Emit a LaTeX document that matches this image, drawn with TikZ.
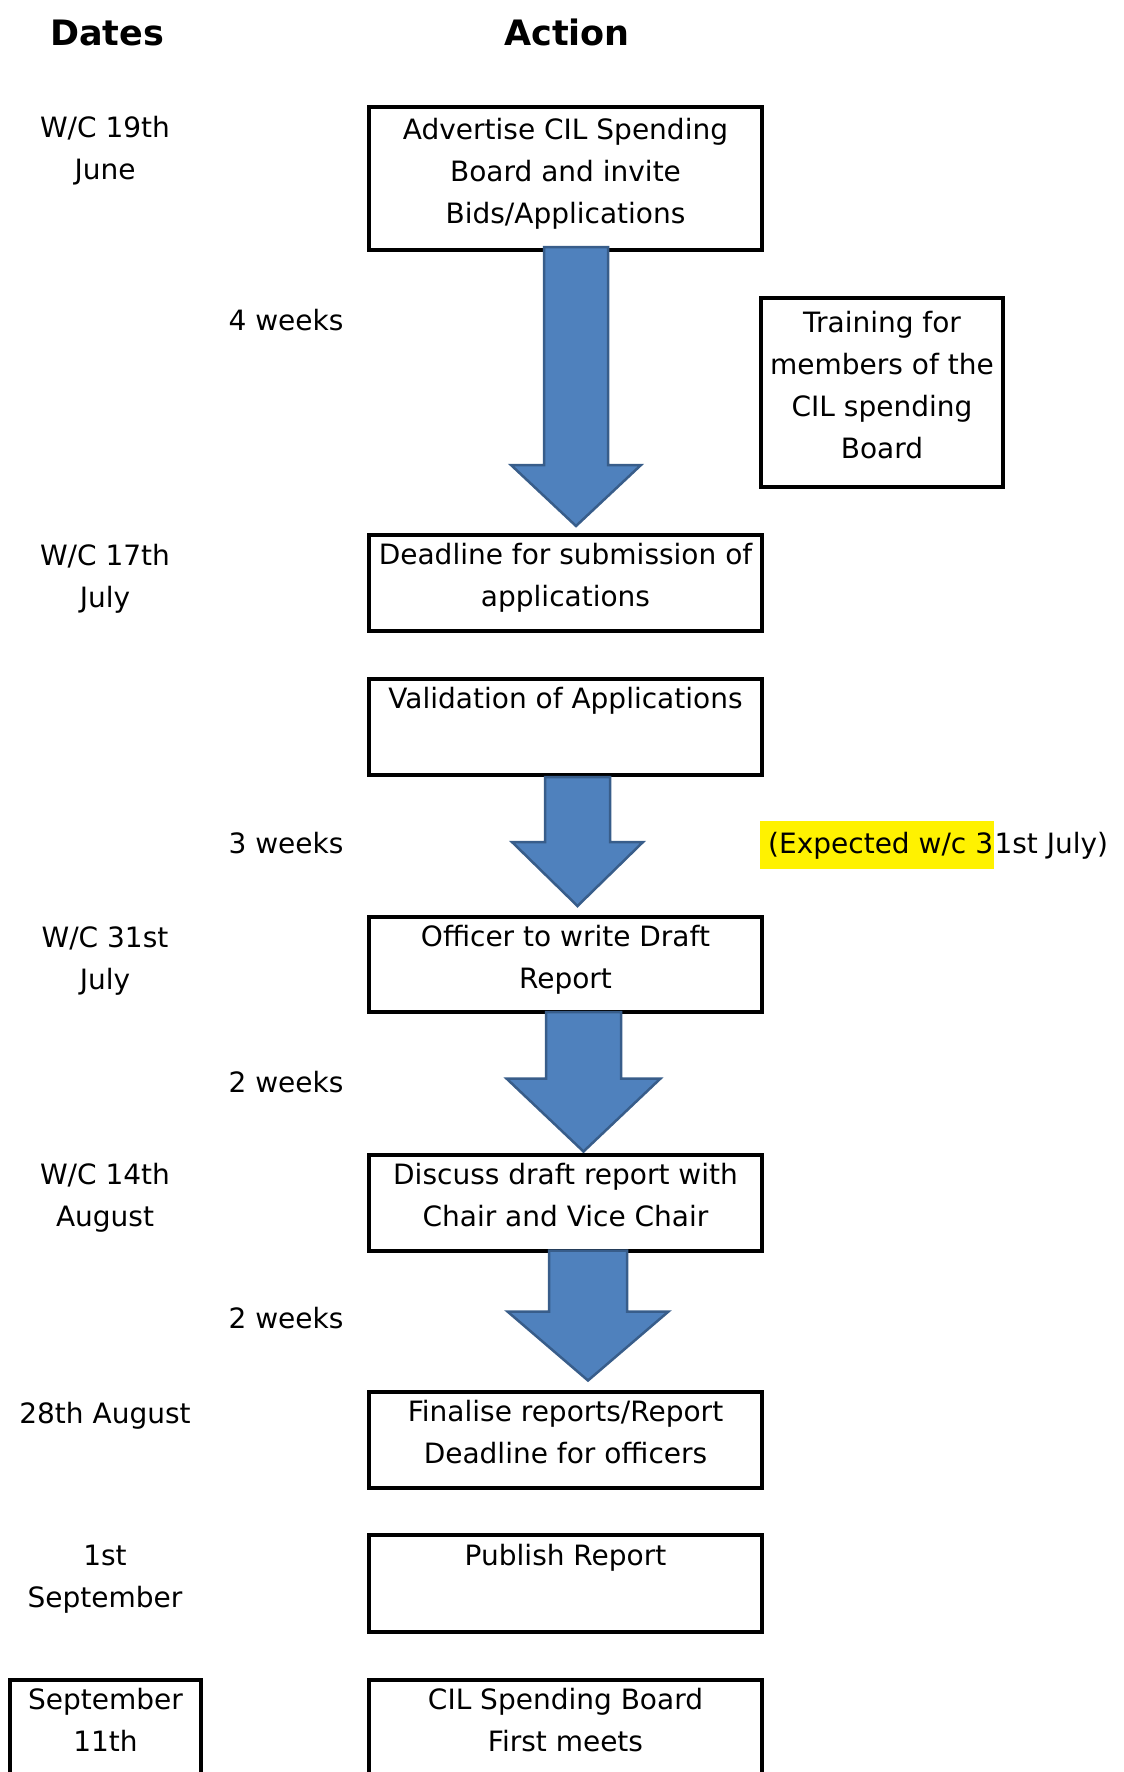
\documentclass[tikz,border=0pt]{standalone}
\usepackage{fontspec}
\setmainfont{DejaVu Sans}
\usetikzlibrary{calc}
\definecolor{arrowblue}{RGB}{79,129,189}
\definecolor{arrowedge}{RGB}{56,93,138}
\newcommand\bodyfont{\fontsize{28}{42}\selectfont}
\newcommand\headfont{\fontsize{35}{42}\selectfont\bfseries}
\newcommand\mystrut{\rule[-16pt]{0pt}{42pt}}
\newcommand\blockarrow[8]{%
  \draw[barrow] let \p1=(#1.south), \p2=(#2.north) in
    (\x1+#3pt-#4pt, \y1+#8pt) -- (\x1+#3pt+#4pt, \y1+#8pt)
    -- (\x1+#3pt+#4pt, \y2+#6pt) -- (\x1+#3pt+#5pt, \y2+#6pt)
    -- (\x1+#3pt, \y2+#7pt)
    -- (\x1+#3pt-#5pt, \y2+#6pt) -- (\x1+#3pt-#4pt, \y2+#6pt) -- cycle;}
\tikzset{
  box/.style={draw=black, line width=4pt, minimum width=393pt, minimum height=96pt,
    align=center, inner sep=0pt, font=\bodyfont,
    execute at begin node=\mystrut, execute at end node=\mystrut},
  lbl/.style={align=center, inner sep=0pt, font=\bodyfont,
    execute at begin node=\mystrut, execute at end node=\mystrut},
  head/.style={inner sep=0pt, font=\headfont, anchor=base},
  barrow/.style={fill=arrowblue, draw=arrowedge, line width=2.5pt, line join=miter}
}
\begin{document}
\begin{tikzpicture}[x=1pt,y=-1pt]
\useasboundingbox (0,0) rectangle (1124,1772);
\clip (0,0) rectangle (1124,1772);

% headings
\node[head] (hDates) at (107,45) {Dates};
\node[head] (hAction) at (567,45) {Action};

% action boxes
\node[box, minimum height=143pt] (b1) at (565.5,178.5) {Advertise CIL Spending\\Board and invite\\Bids/Applications};
\node[box] (b2) at (565.5,583) {Deadline for submission of\\applications};
\node[box] (b3) at (565.5,727) {Validation of Applications\\\mbox{}};
\node[box, minimum height=95pt] (b4) at (565.5,964.5) {Officer to write Draft\\Report};
\node[box] (b5) at (565.5,1202.5) {Discuss draft report with\\Chair and Vice Chair};
\node[box] (b6) at (565.5,1439.5) {Finalise reports/Report\\Deadline for officers};
\node[box, minimum height=97pt] (b7) at (565.5,1583.5) {Publish Report\\\mbox{}};
\node[box] (b8) at (565.5,1728) {CIL Spending Board\\First meets};

% side boxes
\node[box, minimum width=242pt, minimum height=189pt] (train) at (882,392.5) {Training for\\members of the\\CIL spending\\Board};
\node[box, minimum width=191pt] (sepbox) at (105.5,1728) {September\\11th};

% date labels
\node[lbl] (d1) at (105,156) {W/C 19th\\June};
\node[lbl] (d2) at (105,584) {W/C 17th\\July};
\node[lbl] (d3) at (105,966) {W/C 31st\\July};
\node[lbl] (d4) at (105,1203) {W/C 14th\\August};
\node[lbl] (d5) at (105,1418) {28th August};
\node[lbl] (d6) at (105,1584) {1st\\September};

% durations
\node[lbl] (w1) at (286,325) {4 weeks};
\node[lbl] (w2) at (286,848) {3 weeks};
\node[lbl] (w3) at (286,1087) {2 weeks};
\node[lbl] (w4) at (286,1323) {2 weeks};

% expected note with partial highlight
\node[fill=yellow, inner sep=0pt, text height=32pt, text depth=16pt, font=\bodyfont, anchor=base west] (exp1) at (760,853) {\hspace*{8pt}(Expected w/c 3\hspace*{1pt}};
\node[inner sep=0pt, font=\bodyfont, anchor=base west] (exp2) at (exp1.base east) {1st July)};

% block arrows
\blockarrow{b1}{b2}{10.5}{32}{65}{68}{7}{5}
\blockarrow{b3}{b4}{12}{32.5}{65.5}{73}{9}{0}
\blockarrow{b4}{b5}{18}{37.5}{77}{74}{1}{2}
\blockarrow{b5}{b6}{22.5}{39}{80.5}{78}{9}{2}
\end{tikzpicture}
\end{document}
